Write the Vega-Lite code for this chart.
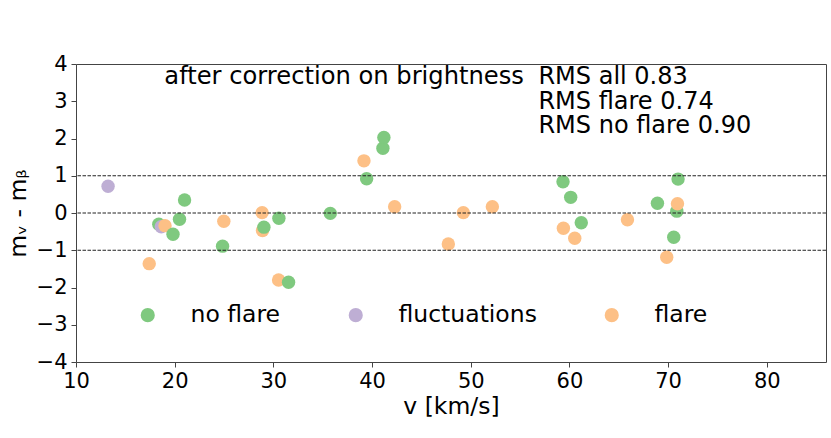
{
  "$schema": "https://vega.github.io/schema/vega-lite/v6.json",
  "width": 750,
  "height": 298,
  "autosize": "none",
  "padding": {"left": 76, "top": 64, "right": 5, "bottom": 76},
  "background": "white",
  "config": {
    "font": "DejaVu Sans",
    "view": {"stroke": "#444", "strokeWidth": 1},
    "axis": {
      "domain": false,
      "grid": false,
      "tickColor": "#444",
      "tickSize": 5,
      "tickWidth": 1,
      "labelFont": "DejaVu Sans",
      "labelFontSize": 21,
      "labelColor": "black",
      "labelOverlap": false,
      "labelFlush": false,
      "titleFont": "DejaVu Sans",
      "titleFontSize": 23.5,
      "titleFontWeight": "normal",
      "titleColor": "black"
    }
  },
  "data": {
    "values": [
      {"v": 13.25, "dm": 0.72, "group": "fluctuations"},
      {"v": 17.42, "dm": -1.36, "group": "flare"},
      {"v": 18.39, "dm": -0.30, "group": "no flare"},
      {"v": 18.64, "dm": -0.37, "group": "fluctuations"},
      {"v": 19.02, "dm": -0.34, "group": "flare"},
      {"v": 19.83, "dm": -0.57, "group": "no flare"},
      {"v": 20.49, "dm": -0.17, "group": "no flare"},
      {"v": 21.0, "dm": 0.35, "group": "no flare"},
      {"v": 24.85, "dm": -0.89, "group": "no flare"},
      {"v": 24.98, "dm": -0.22, "group": "flare"},
      {"v": 28.86, "dm": 0.01, "group": "flare"},
      {"v": 28.9, "dm": -0.47, "group": "flare"},
      {"v": 29.04, "dm": -0.38, "group": "no flare"},
      {"v": 30.53, "dm": -1.80, "group": "flare"},
      {"v": 30.56, "dm": -0.14, "group": "no flare"},
      {"v": 31.54, "dm": -1.86, "group": "no flare"},
      {"v": 35.77, "dm": -0.01, "group": "no flare"},
      {"v": 39.18, "dm": 1.40, "group": "flare"},
      {"v": 39.45, "dm": 0.92, "group": "no flare"},
      {"v": 41.10, "dm": 1.74, "group": "no flare"},
      {"v": 41.2, "dm": 2.03, "group": "no flare"},
      {"v": 42.29, "dm": 0.17, "group": "flare"},
      {"v": 47.73, "dm": -0.83, "group": "flare"},
      {"v": 49.25, "dm": 0.01, "group": "flare"},
      {"v": 52.19, "dm": 0.17, "group": "flare"},
      {"v": 59.35, "dm": 0.84, "group": "no flare"},
      {"v": 59.39, "dm": -0.41, "group": "flare"},
      {"v": 60.13, "dm": 0.42, "group": "no flare"},
      {"v": 60.54, "dm": -0.68, "group": "flare"},
      {"v": 61.2, "dm": -0.26, "group": "no flare"},
      {"v": 65.88, "dm": -0.18, "group": "flare"},
      {"v": 68.92, "dm": 0.26, "group": "no flare"},
      {"v": 69.86, "dm": -1.19, "group": "flare"},
      {"v": 70.57, "dm": -0.65, "group": "no flare"},
      {"v": 70.88, "dm": 0.05, "group": "no flare"},
      {"v": 70.95, "dm": 0.25, "group": "flare"},
      {"v": 71.01, "dm": 0.91, "group": "no flare"}
    ]
  },
  "layer": [
    {
      "mark": {"type": "circle", "size": 180, "opacity": 1},
      "encoding": {
        "x": {
          "field": "v", "type": "quantitative",
          "title": "v [km/s]",
          "scale": {"domain": [10, 86], "nice": false, "zero": false},
          "axis": {"values": [10, 20, 30, 40, 50, 60, 70, 80], "labelPadding": 3, "titlePadding": 3}
        },
        "y": {
          "field": "dm", "type": "quantitative",
          "title": "mᵥ - mᵦ",
          "scale": {"domain": [-4, 4], "nice": false, "zero": false},
          "axis": {"values": [-4, -3, -2, -1, 0, 1, 2, 3, 4], "tickCount": 9, "labelOverlap": false, "labelPadding": 4, "titlePadding": 6}
        },
        "color": {
          "field": "group", "type": "nominal",
          "scale": {"domain": ["no flare", "fluctuations", "flare"], "range": ["#7fc97f", "#beaed4", "#fdc086"]},
          "legend": {
            "title": null,
            "orient": "none",
            "legendX": 60,
            "legendY": 239,
            "direction": "horizontal",
            "columns": 3,
            "padding": 0,
            "symbolType": "circle",
            "symbolSize": 200,
            "symbolOpacity": 1,
            "symbolStrokeWidth": 0,
            "labelFont": "DejaVu Sans",
            "labelFontSize": 23.5,
            "labelColor": "black",
            "labelOffset": 31,
            "columnPadding": 63
          }
        }
      }
    },
    {
      "data": {"values": [{"level": -1}, {"level": 0}, {"level": 1}]},
      "mark": {"type": "rule", "color": "#222", "strokeWidth": 1, "strokeDash": [3.5, 1.5]},
      "encoding": {
        "y": {"field": "level", "type": "quantitative"}
      }
    },
    {
      "data": {"values": [{"note": "after correction on brightness"}]},
      "mark": {"type": "text", "align": "left", "baseline": "alphabetic", "fontSize": 24.2, "color": "black"},
      "encoding": {
        "x": {"datum": 18.95, "type": "quantitative"},
        "y": {"datum": 3.46, "type": "quantitative"},
        "text": {"field": "note"}
      }
    },
    {
      "data": {"values": [{"note": "RMS all 0.83\nRMS flare 0.74\nRMS no flare 0.90"}]},
      "mark": {"type": "text", "align": "left", "baseline": "alphabetic", "fontSize": 24, "lineHeight": 24.5, "lineBreak": "\n", "color": "black"},
      "encoding": {
        "x": {"datum": 56.86, "type": "quantitative"},
        "y": {"datum": 3.46, "type": "quantitative"},
        "text": {"field": "note"}
      }
    }
  ]
}
